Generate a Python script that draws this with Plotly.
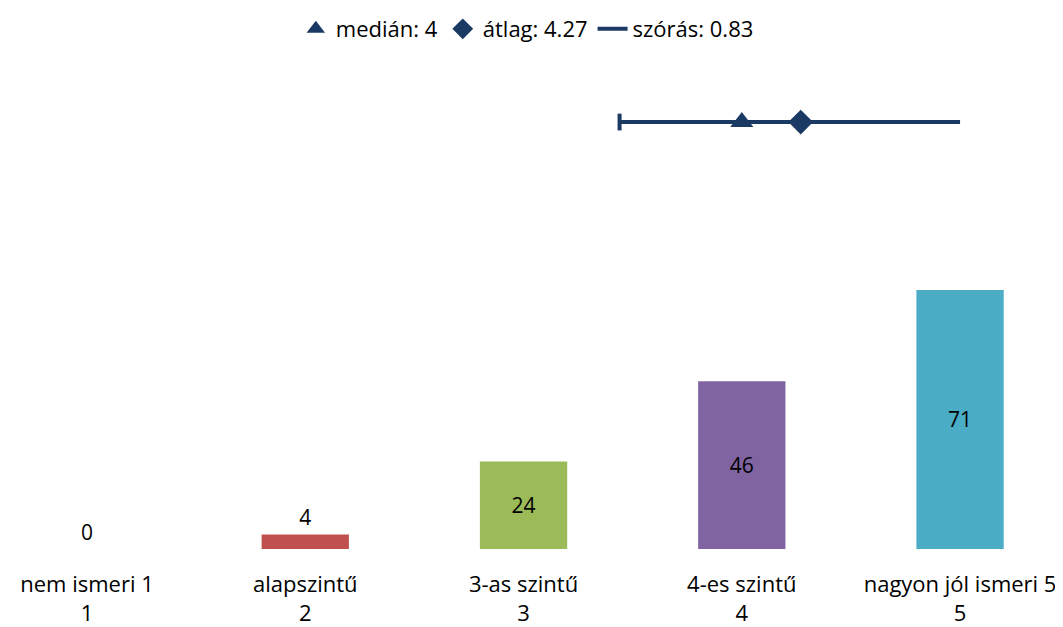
import plotly.graph_objects as go

categories = ["nem ismeri 1", "alapszintű", "3-as szintű", "4-es szintű", "nagyon jól ismeri 5"]
scale_values = [1, 2, 3, 4, 5]
counts = [0, 4, 24, 46, 71]
bar_colors = ["#4F81BD", "#C0504D", "#9BBB59", "#8064A2", "#4BACC6"]

median = 4
mean = 4.27
sd = 0.83
stats_y = 117

navy = "#1B3A63"
font_family = "'Open Sans', sans-serif"
fs = 22

tick_text = [f"{c}<br>{v}" for c, v in zip(categories, scale_values)]
text_pos = ["inside" if c >= 15 else "outside" for c in counts]

fig = go.Figure()
fig.add_trace(go.Bar(
    x=scale_values, y=counts, marker=dict(color=bar_colors, line=dict(width=0)), width=0.4,
    text=[str(c) for c in counts], textposition=text_pos, textangle=0,
    insidetextfont=dict(color="black", size=21, family=font_family),
    outsidetextfont=dict(color="black", size=21, family=font_family),
    insidetextanchor="middle", cliponaxis=False,
    showlegend=False, hoverinfo="skip",
))

sd_left = mean - sd
sd_right = min(mean + sd, max(scale_values))
fig.add_trace(go.Scatter(
    x=[sd_left, sd_right], y=[stats_y, stats_y], mode="lines",
    line=dict(color=navy, width=4), name=f"szórás: {sd}",
))
fig.add_trace(go.Scatter(
    x=[sd_left], y=[stats_y], mode="markers",
    marker=dict(symbol="line-ns", size=12, line=dict(color=navy, width=4)),
    showlegend=False,
))
fig.add_trace(go.Scatter(
    x=[median], y=[stats_y], mode="markers",
    marker=dict(symbol="triangle-up", size=20, color=navy),
    name=f"medián: {median}",
))
fig.add_trace(go.Scatter(
    x=[mean], y=[stats_y], mode="markers",
    marker=dict(symbol="diamond", size=19, color=navy),
    name=f"átlag: {mean}",
))

# body has an 8px margin in the browser; size figure to fit inside the window
W, H = 1055, 619
fig.update_layout(
    width=W, height=H,
    margin=dict(l=0, r=8, t=52, b=78, autoexpand=False),
    plot_bgcolor="white", paper_bgcolor="white",
    font=dict(family=font_family, size=fs, color="black"),
    showlegend=True,
    legend=dict(orientation="h", x=0.496, xanchor="center", y=1.0, yanchor="top",
                yref="container", traceorder="normal", font=dict(size=fs),
                itemwidth=30, tracegroupgap=0),
    xaxis=dict(range=[0.638, 5.435], tickvals=scale_values, ticktext=tick_text,
               showgrid=False, zeroline=False, showline=False, ticks="",
               tickfont=dict(size=fs), ticklabelstandoff=20,
               ticklabeloverflow="allow", automargin=False),
    yaxis=dict(range=[0, 134], visible=False, showgrid=False, zeroline=False),
)
fig.data[3].legendrank = 1
fig.data[4].legendrank = 2
fig.data[1].legendrank = 3

fig.write_html("out.html")
